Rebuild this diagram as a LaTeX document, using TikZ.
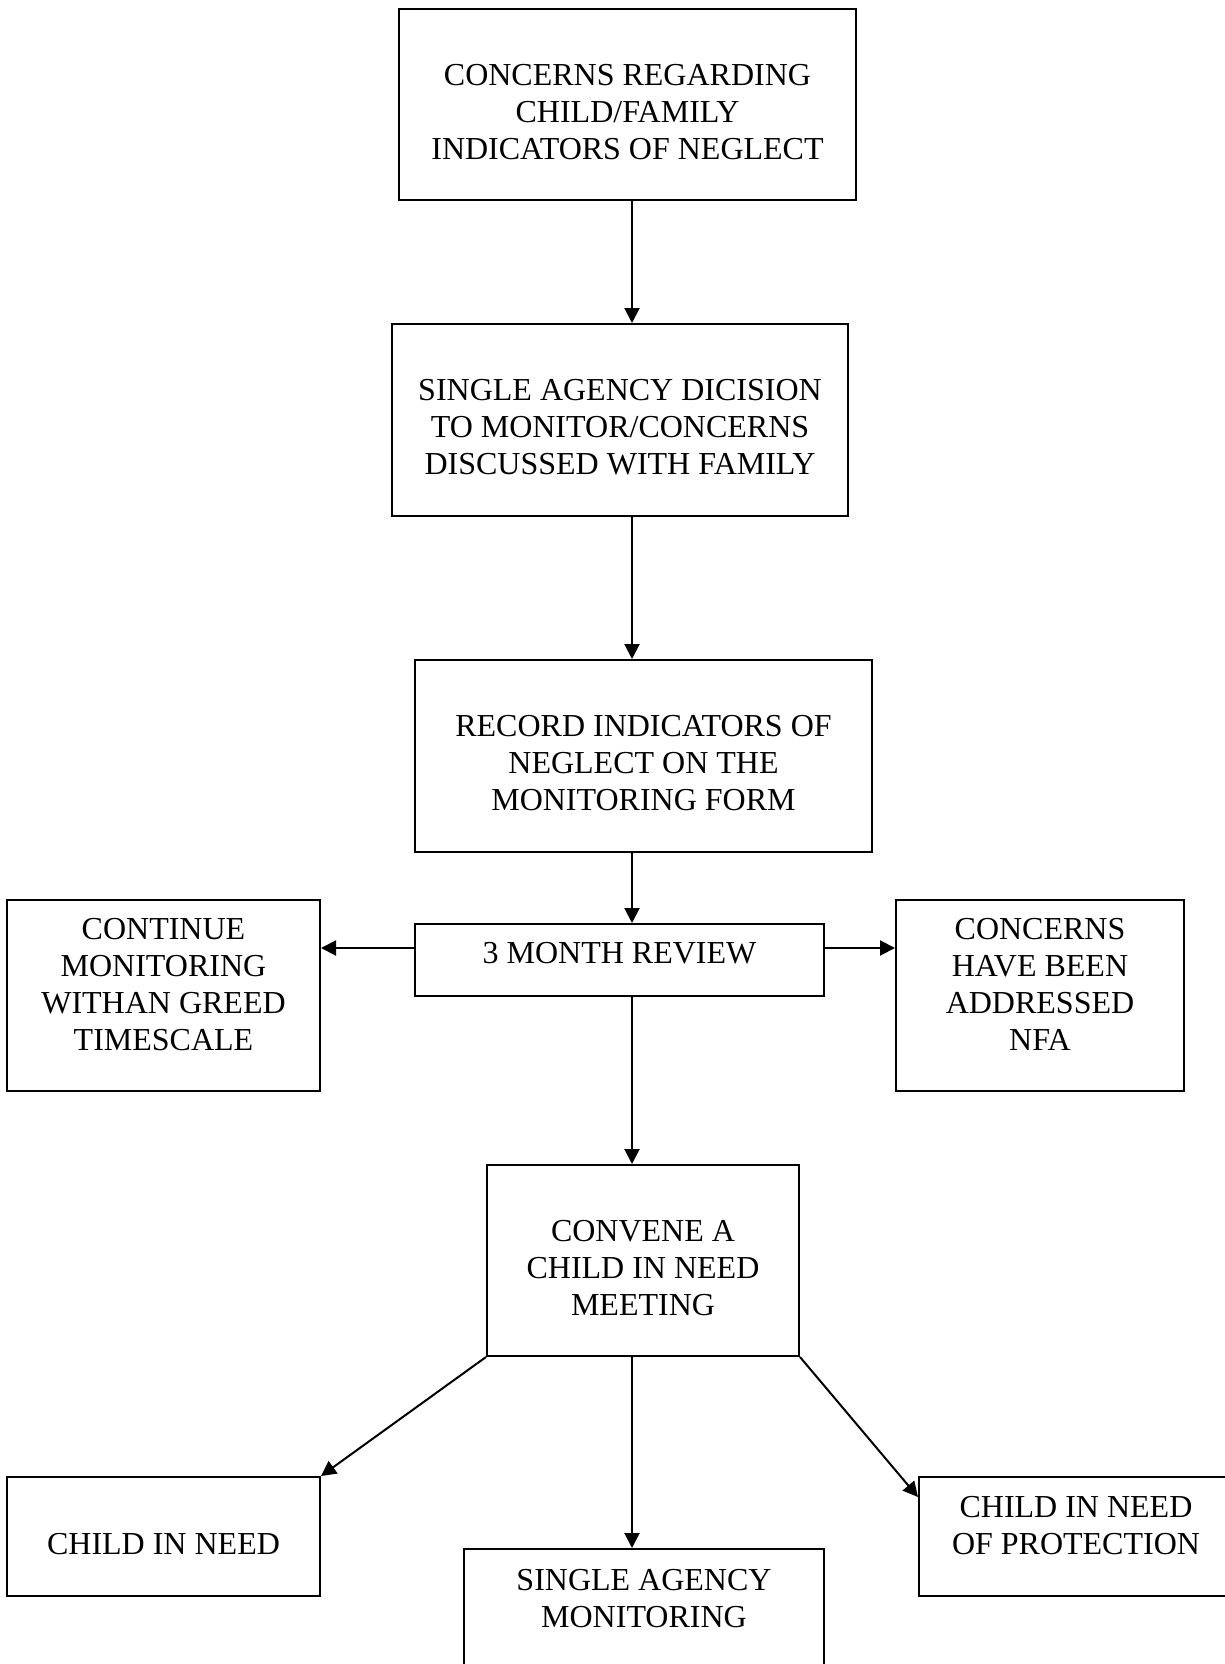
\documentclass[tikz,border=0pt]{standalone}
\usepackage{fontspec}
\setmainfont{Liberation Serif}
\usetikzlibrary{arrows.meta}

\tikzset{
  box/.style={draw, line width=2pt, rectangle, align=center, inner sep=0pt,
    font=\fontsize{32}{37}\selectfont},
  arr/.style={line width=2pt, -{Triangle[length=15pt,width=15pt]}}
}

\begin{document}
\begin{tikzpicture}[x=1pt,y=-1pt]
\useasboundingbox (0,0) rectangle (1224,1664);
\coordinate (spine) at (632,0);
\coordinate (side) at (632,948);
%\scriptsize
\node[box, minimum width=457, minimum height=191, text height=110pt] (concerns) at (627.5,104.5)
  {CONCERNS REGARDING\\CHILD/FAMILY\\INDICATORS OF NEGLECT};
\node[box, minimum width=456, minimum height=192, text height=110pt] (decision) at (620,420)
  {SINGLE AGENCY DICISION\\TO MONITOR/CONCERNS\\DISCUSSED WITH FAMILY};
\node[box, minimum width=457, minimum height=192, text height=110pt] (record) at (643.5,756)
  {RECORD INDICATORS OF\\NEGLECT ON THE\\MONITORING FORM};
\node[box, minimum width=409, minimum height=72, text depth=14pt] (review) at (619.5,960)
  {3 MONTH REVIEW};
\node[box, minimum width=313, minimum height=191, text depth=22pt] (continue) at (163.5,995.5)
  {CONTINUE\\MONITORING\\WITHAN GREED\\TIMESCALE};
\node[box, minimum width=288, minimum height=191, text depth=22pt] (addressed) at (1040,995.5)
  {CONCERNS\\HAVE BEEN\\ADDRESSED\\NFA};
\node[box, minimum width=312, minimum height=191, text height=110pt] (convene) at (643,1260.5)
  {CONVENE A\\CHILD IN NEED\\MEETING};
\node[box, minimum width=313, minimum height=119, text height=36pt] (cin) at (163.5,1536.5)
  {CHILD IN NEED};
\node[box, minimum width=360, inner ysep=20pt, text depth=120pt, anchor=north] (single) at (644,1548)
  {SINGLE AGENCY\\MONITORING};
\node[box, minimum width=314, minimum height=119, text depth=23pt] (protect) at (1076,1536.5)
  {CHILD IN NEED\\OF PROTECTION};

\draw[arr] (spine |- concerns.south) -- (spine |- decision.north);
\draw[arr] (spine |- decision.south) -- (spine |- record.north);
\draw[arr] (spine |- record.south) -- (spine |- review.north);
\draw[arr] (review.west |- side) -- (continue.east |- side);
\draw[arr] (review.east |- side) -- (addressed.west |- side);
\draw[arr] (spine |- review.south) -- (spine |- convene.north);
\draw[arr] (convene.south west) -- (cin.north east);
\draw[arr] (spine |- convene.south) -- (spine |- single.north);
\draw[arr] (convene.south east) -- ([yshift=-21pt]protect.north west);
\end{tikzpicture}
\end{document}
